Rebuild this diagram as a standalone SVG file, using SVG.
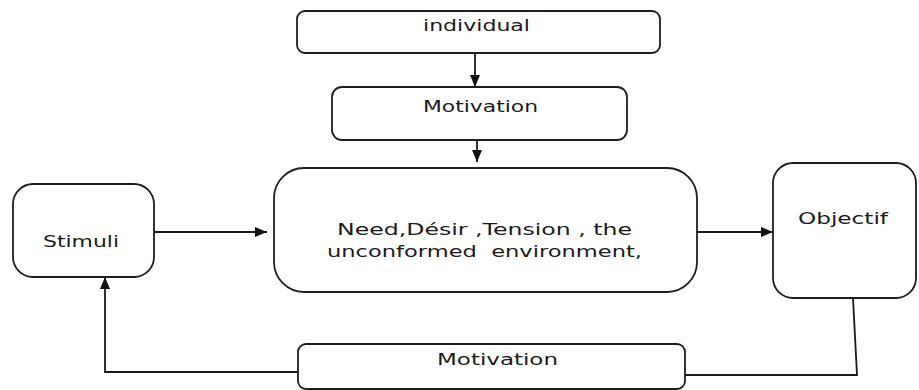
<svg xmlns="http://www.w3.org/2000/svg" width="919" height="390" viewBox="0 0 919 390">
<style>
.box{fill:#fff;stroke:#1e1e1e;stroke-width:1.8}
.lbl{font-family:"DejaVu Sans","Liberation Sans",sans-serif;font-size:16px;fill:#1a1a1a;white-space:pre}
.ln{fill:none;stroke:#1a1a1a;stroke-width:1.8}
</style>
<defs>
<marker id="ah" viewBox="0 0 12 10" refX="12" refY="5" markerWidth="12" markerHeight="10" markerUnits="userSpaceOnUse" orient="auto">
<path d="M0,0 L12,5 L0,10 z" fill="#111"/>
</marker>
</defs>
<rect width="919" height="390" fill="#fff"/>
<g id="connectors">
<line class="ln" x1="475" y1="53" x2="475" y2="87" marker-end="url(#ah)"/>
<line class="ln" x1="477" y1="140" x2="477" y2="162" marker-end="url(#ah)"/>
<line class="ln" x1="154" y1="232" x2="267" y2="232" marker-end="url(#ah)"/>
<line class="ln" x1="697" y1="232" x2="773" y2="232" marker-end="url(#ah)"/>
<polyline class="ln" points="853,298 857,375 685,375"/>
<polyline class="ln" points="298,372 105,372 105,277" marker-end="url(#ah)"/>
</g>
<g id="individual">
<rect class="box" x="297" y="11" width="363" height="42" rx="8"/>
<text class="lbl" x="423" y="31" textLength="107" lengthAdjust="spacingAndGlyphs">individual</text>
</g>
<g id="motivation-top">
<rect class="box" x="332" y="87" width="295" height="53" rx="10"/>
<text class="lbl" x="423" y="112" textLength="115" lengthAdjust="spacingAndGlyphs">Motivation</text>
</g>
<g id="need">
<rect class="box" x="274" y="168" width="423" height="124" rx="30"/>
<text class="lbl" x="337" y="235" textLength="295" lengthAdjust="spacingAndGlyphs">Need,Désir ,Tension , the</text>
<text class="lbl" x="327" y="257" textLength="315" lengthAdjust="spacingAndGlyphs" xml:space="preserve">unconformed  environment,</text>
</g>
<g id="stimuli">
<rect class="box" x="13" y="184" width="141" height="93" rx="20"/>
<text class="lbl" x="43" y="247" textLength="76" lengthAdjust="spacingAndGlyphs">Stimuli</text>
</g>
<g id="objectif">
<rect class="box" x="773" y="163" width="143" height="135" rx="20"/>
<text class="lbl" x="798" y="224" textLength="90" lengthAdjust="spacingAndGlyphs">Objectif</text>
</g>
<g id="motivation-bottom">
<rect class="box" x="298" y="344" width="387" height="45" rx="8"/>
<text class="lbl" x="437" y="365" textLength="121" lengthAdjust="spacingAndGlyphs">Motivation</text>
</g>
</svg>
